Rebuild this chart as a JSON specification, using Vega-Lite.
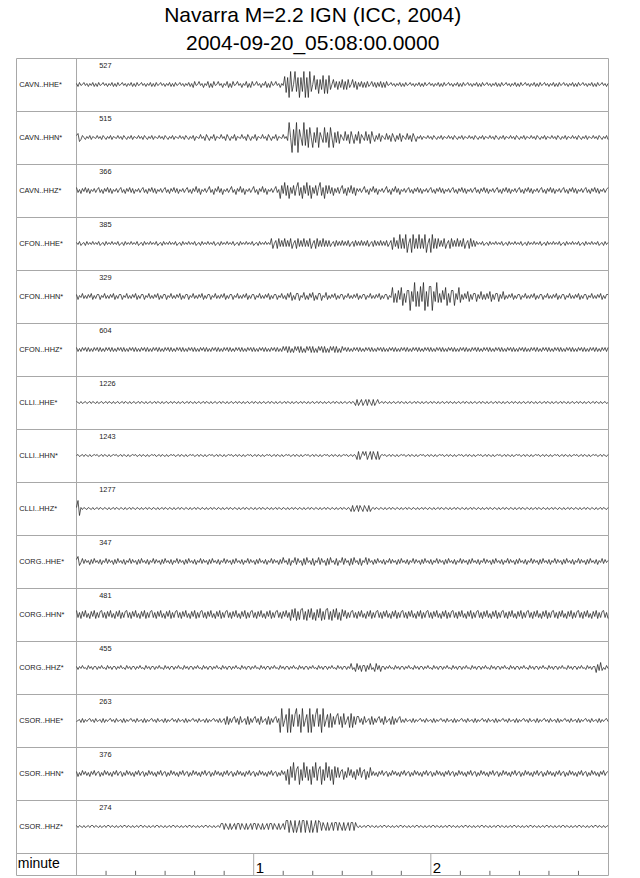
{
"$schema": "https://vega.github.io/schema/vega-lite/v6.json",
"padding": {"left": 15, "top": 5, "right": 0, "bottom": 0},
"background": "white",
"bounds": "flush",
"config": {"view": {"stroke": "#a8a8a8", "strokeWidth": 1, "continuousWidth": 592, "continuousHeight": 53}, "font": "Liberation Sans", "concat": {"spacing": 0}, "line": {"color": "#151515", "strokeWidth": 0.7}, "rule": {"color": "#a8a8a8", "strokeWidth": 1}, "text": {"align": "left", "baseline": "middle", "fontSize": 7.4, "color": "#222"}},
"title": {"text": ["Navarra M=2.2 IGN (ICC, 2004)", "2004-09-20_05:08:00.0000"], "fontSize": 21, "fontWeight": "normal", "lineHeight": 28, "color": "#000", "anchor": "middle", "offset": 3, "font": "Liberation Sans"},
"data": {"name": "w"},
"datasets": {
"w": [
{"t":0,"a":1,"b":2,"c":3,"d":1,"e":2,"f":2,"g":1,"h":0,"i":1,"j":2,"k":4,"l":1,"m":-1,"n":2,"o":1},
{"t":0.5,"a":-2,"b":4,"c":-2,"d":-1,"e":-3,"f":-2,"g":0,"h":1,"i":8,"j":5,"k":-3,"l":-2,"m":0,"n":-3,"o":-1},
{"t":1,"a":2,"b":-4,"c":1,"d":2,"e":1,"f":1,"g":-1,"h":-1,"i":-7,"j":-4,"k":2,"l":1,"m":1,"n":1,"o":1},
{"t":1.5,"a":-1,"b":-2,"c":-3,"d":-2,"e":-1,"f":-2,"g":1,"h":0,"i":1,"j":-1,"k":-4,"l":-1,"m":-2,"n":-2,"o":0},
{"t":2,"a":0,"b":2,"c":2,"d":0,"e":3,"f":2,"g":-1,"h":1,"i":-1,"j":3,"k":3,"l":2,"m":2,"n":3,"o":-1},
{"t":2.5,"a":2,"b":0,"c":-1,"d":1,"e":-2,"f":-1,"g":0,"h":-1,"i":1,"j":-2,"k":-2,"l":-1,"m":-2,"n":-1,"o":1},
{"t":3,"a":-1,"b":-2,"c":3,"d":-2,"e":1,"f":2,"g":1,"h":1,"i":0,"j":2,"k":4,"l":0,"m":1,"n":2,"o":-1},
{"t":3.5,"a":1,"b":1,"c":-2,"d":2,"e":-2,"f":-2,"g":-1,"h":0,"i":-1,"j":-1,"k":-3,"l":-2,"m":-1,"n":-2,"o":0},
{"t":4,"a":-2,"b":-1,"c":2,"d":-1,"e":2,"f":2,"g":0,"h":-1,"i":1,"j":1,"k":1,"l":2,"m":1,"n":1,"o":1},
{"t":4.5,"a":1,"b":2,"c":-3,"d":1,"e":-1,"f":-2,"g":1,"h":1,"i":0,"j":-3,"k":-4,"l":-1,"m":2,"n":-3,"o":-1},
{"t":5,"a":-1,"b":-2,"c":1,"d":-1,"e":3,"f":1,"g":-1,"h":-1,"i":-1,"j":2,"k":3,"l":1,"m":-1,"n":2,"o":1},
{"t":5.5,"a":2,"b":1,"c":-1,"d":2,"e":-3,"f":-2,"g":1,"h":0,"i":1,"j":-2,"k":-2,"l":-2,"m":1,"n":-1,"o":1},
{"t":6,"a":-2,"b":0,"c":2,"d":-1,"e":1,"f":2,"g":0,"h":1,"i":-1,"j":3,"k":4,"l":1,"m":-2,"n":3,"o":-1},
{"t":6.5,"a":1,"b":-1,"c":-2,"d":1,"e":-2,"f":-1,"g":-1,"h":0,"i":0,"j":-1,"k":-4,"l":1,"m":2,"n":-2,"o":1},
{"t":7,"a":-2,"b":2,"c":1,"d":-1,"e":2,"f":2,"g":1,"h":1,"i":1,"j":1,"k":2,"l":-2,"m":-1,"n":1,"o":0},
{"t":7.5,"a":2,"b":-1,"c":3,"d":2,"e":2,"f":-2,"g":-1,"h":-1,"i":-1,"j":-2,"k":-3,"l":1,"m":0,"n":2,"o":-1},
{"t":8,"a":-1,"b":1,"c":-2,"d":-2,"e":-3,"f":2,"g":0,"h":0,"i":1,"j":2,"k":3,"l":-1,"m":1,"n":-3,"o":1},
{"t":8.5,"a":0,"b":-2,"c":1,"d":0,"e":1,"f":-2,"g":1,"h":1,"i":0,"j":-3,"k":4,"l":2,"m":-2,"n":1,"o":-1},
{"t":9,"a":2,"b":2,"c":-3,"d":1,"e":-1,"f":1,"g":-1,"h":-1,"i":-1,"j":1,"k":-3,"l":-1,"m":2,"n":-2,"o":0},
{"t":9.5,"a":-1,"b":0,"c":2,"d":-2,"e":3,"f":-2,"g":0,"h":1,"i":1,"j":-1,"k":2,"l":0,"m":-2,"n":3,"o":1},
{"t":10,"a":1,"b":-2,"c":-1,"d":2,"e":-2,"f":2,"g":1,"h":0,"i":0,"j":3,"k":-4,"l":-2,"m":1,"n":-1,"o":-1},
{"t":10.5,"a":-2,"b":1,"c":3,"d":-1,"e":1,"f":-1,"g":-1,"h":-1,"i":-1,"j":-2,"k":3,"l":2,"m":-1,"n":2,"o":1},
{"t":11,"a":1,"b":-1,"c":-2,"d":1,"e":-2,"f":2,"g":1,"h":1,"i":1,"j":2,"k":-2,"l":-1,"m":1,"n":-2,"o":1},
{"t":11.5,"a":-1,"b":2,"c":2,"d":-1,"e":2,"f":-2,"g":0,"h":-1,"i":-1,"j":-1,"k":4,"l":1,"m":2,"n":1,"o":-1},
{"t":12,"a":2,"b":-2,"c":-3,"d":2,"e":-1,"f":2,"g":-1,"h":0,"i":0,"j":1,"k":-3,"l":-2,"m":-1,"n":-3,"o":1},
{"t":12.5,"a":-2,"b":1,"c":1,"d":-1,"e":3,"f":-2,"g":1,"h":1,"i":1,"j":-3,"k":1,"l":1,"m":1,"n":2,"o":0},
{"t":13,"a":1,"b":0,"c":-1,"d":1,"e":-3,"f":1,"g":-1,"h":0,"i":-1,"j":2,"k":-4,"l":1,"m":-2,"n":-1,"o":-1},
{"t":13.5,"a":-2,"b":-1,"c":2,"d":-1,"e":1,"f":-2,"g":0,"h":1,"i":1,"j":-2,"k":3,"l":-2,"m":2,"n":3,"o":1},
{"t":14,"a":2,"b":2,"c":-2,"d":2,"e":-2,"f":2,"g":1,"h":-1,"i":0,"j":3,"k":-2,"l":1,"m":-1,"n":-2,"o":-1},
{"t":14.5,"a":-1,"b":-1,"c":1,"d":-2,"e":2,"f":-1,"g":-1,"h":0,"i":-1,"j":-1,"k":4,"l":-1,"m":0,"n":1,"o":0},
{"t":15,"a":0,"b":1,"c":3,"d":0,"e":2,"f":2,"g":0,"h":1,"i":1,"j":1,"k":-4,"l":2,"m":1,"n":2,"o":1},
{"t":15.5,"a":2,"b":-2,"c":-2,"d":1,"e":-3,"f":-2,"g":1,"h":-1,"i":0,"j":-2,"k":2,"l":-1,"m":-2,"n":-3,"o":-1},
{"t":16,"a":-1,"b":2,"c":1,"d":-2,"e":1,"f":2,"g":-1,"h":1,"i":-1,"j":2,"k":-3,"l":0,"m":2,"n":1,"o":1},
{"t":16.5,"a":1,"b":0,"c":-3,"d":2,"e":-1,"f":-2,"g":1,"h":0,"i":1,"j":-3,"k":3,"l":-2,"m":-2,"n":-2,"o":1},
{"t":17,"a":-2,"b":-2,"c":2,"d":-1,"e":3,"f":1,"g":0,"h":-1,"i":-1,"j":1,"k":4,"l":2,"m":1,"n":3,"o":-1},
{"t":17.5,"a":1,"b":1,"c":-1,"d":1,"e":-2,"f":-2,"g":-1,"h":1,"i":0,"j":-1,"k":-3,"l":-1,"m":-1,"n":-1,"o":1},
{"t":18,"a":-1,"b":-1,"c":3,"d":-1,"e":1,"f":2,"g":1,"h":-1,"i":1,"j":3,"k":2,"l":1,"m":1,"n":2,"o":0},
{"t":18.5,"a":2,"b":2,"c":-2,"d":2,"e":-2,"f":-1,"g":-1,"h":0,"i":-1,"j":-2,"k":-4,"l":-2,"m":2,"n":-2,"o":-1},
{"t":19,"a":-2,"b":-2,"c":2,"d":-1,"e":2,"f":2,"g":0,"h":1,"i":1,"j":2,"k":3,"l":1,"m":-1,"n":1,"o":1},
{"t":19.5,"a":1,"b":1,"c":-3,"d":1,"e":-1,"f":-2,"g":1,"h":0,"i":0,"j":-1,"k":-2,"l":1,"m":1,"n":-3,"o":-1},
{"t":20,"a":-2,"b":0,"c":1,"d":-1,"e":3,"f":2,"g":-1,"h":1,"i":-1,"j":1,"k":4,"l":-2,"m":-2,"n":2,"o":0},
{"t":20.5,"a":2,"b":-1,"c":-1,"d":2,"e":-3,"f":-2,"g":0,"h":-1,"i":1,"j":-3,"k":-3,"l":1,"m":2,"n":-1,"o":1},
{"t":21,"a":-1,"b":2,"c":2,"d":-2,"e":1,"f":1,"g":1,"h":0,"i":0,"j":2,"k":1,"l":-1,"m":-1,"n":3,"o":-1},
{"t":21.5,"a":0,"b":-1,"c":-2,"d":0,"e":-2,"f":-2,"g":-1,"h":1,"i":-1,"j":-2,"k":-4,"l":2,"m":0,"n":-2,"o":1},
{"t":22,"a":2,"b":1,"c":1,"d":1,"e":2,"f":2,"g":1,"h":-1,"i":1,"j":3,"k":3,"l":-1,"m":1,"n":1,"o":1},
{"t":22.5,"a":-1,"b":-2,"c":3,"d":-2,"e":2,"f":-1,"g":0,"h":1,"i":-1,"j":-1,"k":-2,"l":0,"m":-2,"n":2,"o":-1},
{"t":23,"a":1,"b":2,"c":-2,"d":2,"e":-3,"f":2,"g":-1,"h":0,"i":0,"j":1,"k":4,"l":-2,"m":2,"n":-3,"o":1},
{"t":23.5,"a":-2,"b":0,"c":1,"d":-1,"e":1,"f":-2,"g":1,"h":-1,"i":1,"j":-2,"k":-4,"l":2,"m":-2,"n":1,"o":0},
{"t":24,"a":1,"b":-2,"c":-3,"d":1,"e":-1,"f":2,"g":-1,"h":1,"i":-1,"j":2,"k":2,"l":-1,"m":1,"n":-2,"o":-1},
{"t":24.5,"a":-1,"b":1,"c":2,"d":-1,"e":3,"f":-2,"g":0,"h":-1,"i":1,"j":-3,"k":-3,"l":1,"m":-1,"n":3,"o":1},
{"t":25,"a":2,"b":-1,"c":-1,"d":2,"e":-2,"f":1,"g":1,"h":0,"i":0,"j":1,"k":3,"l":-2,"m":1,"n":-1,"o":-1},
{"t":25.5,"a":-2,"b":2,"c":3,"d":-1,"e":1,"f":-2,"g":-1,"h":1,"i":-1,"j":-1,"k":4,"l":1,"m":2,"n":2,"o":0},
{"t":26,"a":1,"b":-2,"c":-2,"d":1,"e":-2,"f":2,"g":0,"h":0,"i":1,"j":3,"k":-3,"l":1,"m":-1,"n":-2,"o":1},
{"t":26.5,"a":-2,"b":1,"c":2,"d":-1,"e":2,"f":-1,"g":1,"h":1,"i":0,"j":-2,"k":2,"l":-2,"m":1,"n":1,"o":-1},
{"t":27,"a":2,"b":0,"c":-3,"d":2,"e":-1,"f":2,"g":-1,"h":-1,"i":-1,"j":2,"k":-4,"l":1,"m":-2,"n":-3,"o":1},
{"t":27.5,"a":-1,"b":-1,"c":1,"d":-2,"e":3,"f":-2,"g":1,"h":0,"i":1,"j":-1,"k":3,"l":-1,"m":2,"n":2,"o":1},
{"t":28,"a":0,"b":2,"c":-1,"d":0,"e":-3,"f":2,"g":0,"h":1,"i":-1,"j":1,"k":-2,"l":2,"m":-1,"n":-1,"o":-1},
{"t":28.5,"a":2,"b":-1,"c":2,"d":1,"e":1,"f":-2,"g":-1,"h":-1,"i":0,"j":-3,"k":4,"l":-1,"m":0,"n":3,"o":1},
{"t":29,"a":-1,"b":1,"c":-2,"d":-2,"e":-2,"f":1,"g":1,"h":1,"i":1,"j":2,"k":-3,"l":0,"m":1,"n":-2,"o":0},
{"t":29.5,"a":1,"b":-2,"c":1,"d":2,"e":2,"f":-2,"g":-1,"h":0,"i":-1,"j":-2,"k":1,"l":-2,"m":-2,"n":1,"o":-1},
{"t":30,"a":-2,"b":2,"c":3,"d":-1,"e":2,"f":2,"g":0,"h":-1,"i":1,"j":3,"k":-4,"l":2,"m":2,"n":2,"o":1},
{"t":30.5,"a":1,"b":0,"c":-2,"d":1,"e":-3,"f":-1,"g":1,"h":1,"i":0,"j":-1,"k":3,"l":-1,"m":-2,"n":-3,"o":-1},
{"t":31,"a":-1,"b":-2,"c":1,"d":-1,"e":1,"f":2,"g":-1,"h":-1,"i":-1,"j":1,"k":-2,"l":1,"m":1,"n":1,"o":0},
{"t":31.5,"a":2,"b":1,"c":-3,"d":2,"e":-1,"f":-2,"g":0,"h":0,"i":1,"j":-2,"k":4,"l":-2,"m":-1,"n":-2,"o":1},
{"t":32,"a":-2,"b":-1,"c":2,"d":-1,"e":3,"f":2,"g":1,"h":1,"i":0,"j":2,"k":-4,"l":1,"m":1,"n":3,"o":-1},
{"t":32.5,"a":1,"b":2,"c":-1,"d":1,"e":-2,"f":-2,"g":-1,"h":0,"i":-1,"j":-3,"k":2,"l":1,"m":2,"n":-1,"o":1},
{"t":33,"a":-2,"b":-2,"c":3,"d":-1,"e":1,"f":1,"g":1,"h":1,"i":1,"j":1,"k":-3,"l":-2,"m":-1,"n":2,"o":1},
{"t":33.5,"a":2,"b":1,"c":-2,"d":2,"e":-2,"f":-2,"g":0,"h":-1,"i":-1,"j":-1,"k":3,"l":1,"m":1,"n":-2,"o":-1},
{"t":34,"a":-1,"b":0,"c":2,"d":-2,"e":2,"f":2,"g":-1,"h":0,"i":0,"j":3,"k":4,"l":-1,"m":-2,"n":1,"o":1},
{"t":34.5,"a":0,"b":-1,"c":-3,"d":0,"e":-1,"f":-1,"g":1,"h":1,"i":1,"j":-2,"k":-3,"l":2,"m":2,"n":-3,"o":0},
{"t":35,"a":2,"b":2,"c":1,"d":1,"e":3,"f":2,"g":-1,"h":-1,"i":-1,"j":2,"k":2,"l":-1,"m":-1,"n":2,"o":-1},
{"t":35.5,"a":-1,"b":-1,"c":-1,"d":-2,"e":-3,"f":-2,"g":0,"h":1,"i":1,"j":-1,"k":-4,"l":0,"m":0,"n":-1,"o":1},
{"t":36,"a":1,"b":1,"c":2,"d":2,"e":1,"f":2,"g":1,"h":0,"i":0,"j":1,"k":3,"l":-2,"m":1,"n":3,"o":-1},
{"t":36.5,"a":-2,"b":-2,"c":-2,"d":-1,"e":-2,"f":-2,"g":-1,"h":-1,"i":-1,"j":-3,"k":-2,"l":2,"m":-2,"n":-2,"o":0},
{"t":37,"a":1,"b":2,"c":1,"d":1,"e":2,"f":1,"g":0,"h":1,"i":1,"j":2,"k":4,"l":-1,"m":2,"n":1,"o":1},
{"t":37.5,"a":-1,"b":0,"c":3,"d":-1,"e":2,"f":-2,"g":1,"h":-1,"i":0,"j":-2,"k":-3,"l":1,"m":-2,"n":2,"o":-1},
{"t":38,"a":2,"b":-2,"c":-2,"d":2,"e":-3,"f":2,"g":-1,"h":0,"i":-1,"j":3,"k":1,"l":-2,"m":1,"n":-3,"o":1},
{"t":38.5,"a":-2,"b":1,"c":1,"d":-1,"e":1,"f":-1,"g":1,"h":1,"i":1,"j":-1,"k":-4,"l":1,"m":-1,"n":1,"o":1},
{"t":39,"a":1,"b":-1,"c":-3,"d":1,"e":-1,"f":2,"g":0,"h":0,"i":-1,"j":1,"k":3,"l":1,"m":1,"n":-2,"o":-1},
{"t":39.5,"a":-3,"b":2,"c":2,"d":-1,"e":3,"f":-2,"g":-1,"h":1,"i":0,"j":-2,"k":-2,"l":-2,"m":2,"n":3,"o":1},
{"t":40,"a":3,"b":-3,"c":-1,"d":2,"e":-2,"f":2,"g":1,"h":-1,"i":1,"j":2,"k":4,"l":1,"m":-1,"n":-1,"o":0},
{"t":40.5,"a":-1,"b":1,"c":4,"d":-2,"e":1,"f":-2,"g":-1,"h":0,"i":-1,"j":-3,"k":-4,"l":-1,"m":1,"n":2,"o":-1},
{"t":41,"a":0,"b":0,"c":-2,"d":0,"e":-2,"f":1,"g":0,"h":1,"i":1,"j":1,"k":2,"l":2,"m":-2,"n":-2,"o":1},
{"t":41.5,"a":3,"b":-1,"c":2,"d":1,"e":2,"f":-2,"g":1,"h":-1,"i":0,"j":-1,"k":-3,"l":-1,"m":2,"n":1,"o":-1},
{"t":42,"a":-1,"b":3,"c":-4,"d":-2,"e":-1,"f":2,"g":-1,"h":1,"i":-1,"j":3,"k":3,"l":0,"m":-1,"n":-3,"o":0},
{"t":42.5,"a":1,"b":-1,"c":1,"d":2,"e":3,"f":-1,"g":0,"h":0,"i":1,"j":-2,"k":4,"l":-2,"m":0,"n":2,"o":1},
{"t":43,"a":-3,"b":1,"c":-1,"d":-1,"e":-3,"f":2,"g":1,"h":-1,"i":0,"j":2,"k":-3,"l":2,"m":1,"n":-1,"o":-1},
{"t":43.5,"a":1,"b":-3,"c":2,"d":1,"e":1,"f":-2,"g":-1,"h":1,"i":-1,"j":-1,"k":2,"l":-1,"m":-2,"n":3,"o":1},
{"t":44,"a":-1,"b":3,"c":-2,"d":-1,"e":-2,"f":2,"g":1,"h":-1,"i":1,"j":1,"k":-4,"l":1,"m":2,"n":-2,"o":1},
{"t":44.5,"a":3,"b":0,"c":1,"d":2,"e":2,"f":-2,"g":0,"h":0,"i":-1,"j":-3,"k":3,"l":-2,"m":-2,"n":1,"o":-1},
{"t":45,"a":-3,"b":-3,"c":4,"d":-1,"e":2,"f":1,"g":-1,"h":1,"i":0,"j":2,"k":-2,"l":1,"m":1,"n":2,"o":1},
{"t":45.5,"a":1,"b":1,"c":-2,"d":1,"e":-3,"f":-2,"g":1,"h":0,"i":1,"j":-2,"k":4,"l":1,"m":-1,"n":-3,"o":0},
{"t":46,"a":-3,"b":-1,"c":1,"d":-1,"e":1,"f":2,"g":-1,"h":1,"i":-1,"j":3,"k":-3,"l":-2,"m":1,"n":1,"o":-1},
{"t":46.5,"a":3,"b":3,"c":-4,"d":2,"e":-1,"f":-1,"g":0,"h":-1,"i":1,"j":-1,"k":1,"l":1,"m":2,"n":-2,"o":1},
{"t":47,"a":-1,"b":-3,"c":2,"d":-2,"e":3,"f":2,"g":1,"h":0,"i":0,"j":1,"k":-4,"l":-1,"m":-1,"n":3,"o":-1},
{"t":47.5,"a":0,"b":1,"c":-1,"d":0,"e":-2,"f":-2,"g":-1,"h":1,"i":-1,"j":-2,"k":3,"l":2,"m":1,"n":-1,"o":0},
{"t":48,"a":3,"b":0,"c":4,"d":1,"e":1,"f":2,"g":0,"h":-1,"i":1,"j":2,"k":-2,"l":-1,"m":-2,"n":2,"o":1},
{"t":48.5,"a":-1,"b":-1,"c":-2,"d":-2,"e":-2,"f":-2,"g":1,"h":1,"i":0,"j":-3,"k":4,"l":0,"m":2,"n":-2,"o":-1},
{"t":49,"a":1,"b":3,"c":2,"d":2,"e":2,"f":1,"g":-1,"h":0,"i":-1,"j":1,"k":-4,"l":-2,"m":-2,"n":1,"o":3},
{"t":49.5,"a":-3,"b":-1,"c":-4,"d":-1,"e":-1,"f":-2,"g":1,"h":-1,"i":1,"j":-1,"k":2,"l":2,"m":0,"n":-3,"o":3},
{"t":50,"a":1,"b":1,"c":1,"d":1,"e":3,"f":2,"g":0,"h":1,"i":-1,"j":3,"k":-3,"l":-1,"m":2,"n":2,"o":-3},
{"t":50.5,"a":-1,"b":-3,"c":-1,"d":-1,"e":-3,"f":-1,"g":-1,"h":-1,"i":0,"j":-2,"k":3,"l":1,"m":-4,"n":-1,"o":3},
{"t":51,"a":3,"b":3,"c":2,"d":2,"e":1,"f":2,"g":1,"h":0,"i":1,"j":2,"k":4,"l":-2,"m":4,"n":3,"o":0},
{"t":51.5,"a":-3,"b":0,"c":-2,"d":-1,"e":-2,"f":-2,"g":-1,"h":1,"i":-1,"j":-1,"k":-3,"l":1,"m":-4,"n":-2,"o":-3},
{"t":52,"a":1,"b":-3,"c":1,"d":1,"e":2,"f":2,"g":0,"h":0,"i":1,"j":1,"k":2,"l":1,"m":2,"n":1,"o":3},
{"t":52.5,"a":-3,"b":1,"c":4,"d":-1,"e":2,"f":-2,"g":1,"h":1,"i":0,"j":-3,"k":-4,"l":-2,"m":-2,"n":2,"o":-3},
{"t":53,"a":3,"b":-1,"c":-2,"d":2,"e":-3,"f":1,"g":-1,"h":-1,"i":-1,"j":2,"k":3,"l":1,"m":2,"n":-3,"o":0},
{"t":53.5,"a":-1,"b":3,"c":1,"d":-2,"e":1,"f":-2,"g":0,"h":0,"i":1,"j":-2,"k":-2,"l":-1,"m":4,"n":1,"o":3},
{"t":54,"a":0,"b":-3,"c":-4,"d":0,"e":-1,"f":2,"g":1,"h":1,"i":0,"j":3,"k":4,"l":2,"m":-2,"n":-2,"o":-3},
{"t":54.5,"a":3,"b":1,"c":2,"d":1,"e":3,"f":-1,"g":-1,"h":-1,"i":-1,"j":-1,"k":-3,"l":-1,"m":2,"n":3,"o":3},
{"t":55,"a":-1,"b":0,"c":-1,"d":-2,"e":-2,"f":2,"g":1,"h":1,"i":1,"j":1,"k":1,"l":0,"m":-4,"n":-1,"o":3},
{"t":55.5,"a":1,"b":-1,"c":4,"d":2,"e":1,"f":-2,"g":0,"h":0,"i":-1,"j":-2,"k":-4,"l":-2,"m":4,"n":2,"o":-3},
{"t":56,"a":-3,"b":3,"c":-2,"d":-1,"e":-2,"f":2,"g":-1,"h":-1,"i":0,"j":2,"k":3,"l":2,"m":-2,"n":-2,"o":3},
{"t":56.5,"a":1,"b":-1,"c":2,"d":1,"e":2,"f":-2,"g":1,"h":1,"i":1,"j":-3,"k":-2,"l":-1,"m":0,"n":1,"o":0},
{"t":57,"a":-1,"b":1,"c":-4,"d":-1,"e":-1,"f":1,"g":-1,"h":-1,"i":-1,"j":1,"k":4,"l":1,"m":2,"n":-3,"o":-3},
{"t":57.5,"a":3,"b":-3,"c":1,"d":2,"e":3,"f":-2,"g":0,"h":0,"i":1,"j":-1,"k":-4,"l":-2,"m":-4,"n":2,"o":3},
{"t":58,"a":-3,"b":3,"c":-1,"d":-1,"e":-3,"f":2,"g":1,"h":1,"i":0,"j":3,"k":2,"l":1,"m":4,"n":-1,"o":-3},
{"t":58.5,"a":1,"b":0,"c":2,"d":1,"e":1,"f":-1,"g":-1,"h":0,"i":-1,"j":-2,"k":-3,"l":1,"m":-4,"n":3,"o":0},
{"t":59,"a":-3,"b":-3,"c":-2,"d":-1,"e":-2,"f":2,"g":0,"h":1,"i":1,"j":2,"k":3,"l":-2,"m":2,"n":-2,"o":3},
{"t":59.5,"a":3,"b":1,"c":1,"d":2,"e":2,"f":-2,"g":1,"h":-1,"i":0,"j":-1,"k":4,"l":1,"m":-2,"n":1,"o":-3},
{"t":60,"a":-1,"b":-1,"c":4,"d":-2,"e":2,"f":2,"g":-1,"h":0,"i":-1,"j":1,"k":-3,"l":-1,"m":2,"n":2,"o":3},
{"t":60.5,"a":0,"b":3,"c":-2,"d":0,"e":-3,"f":-2,"g":1,"h":1,"i":1,"j":-3,"k":2,"l":2,"m":4,"n":-3,"o":3},
{"t":61,"a":3,"b":-3,"c":1,"d":1,"e":1,"f":1,"g":0,"h":-1,"i":-1,"j":2,"k":-4,"l":-1,"m":-2,"n":1,"o":-3},
{"t":61.5,"a":-1,"b":1,"c":-4,"d":-2,"e":-1,"f":-2,"g":-1,"h":1,"i":0,"j":-2,"k":3,"l":0,"m":2,"n":-2,"o":3},
{"t":62,"a":1,"b":0,"c":2,"d":2,"e":3,"f":2,"g":1,"h":0,"i":1,"j":3,"k":-2,"l":-2,"m":-4,"n":3,"o":0},
{"t":62.5,"a":-3,"b":-1,"c":-1,"d":-1,"e":-2,"f":-1,"g":-1,"h":-1,"i":-1,"j":-1,"k":4,"l":2,"m":4,"n":-1,"o":-3},
{"t":63,"a":1,"b":3,"c":4,"d":1,"e":1,"f":2,"g":0,"h":1,"i":1,"j":1,"k":-3,"l":-1,"m":-2,"n":2,"o":3},
{"t":63.5,"a":-1,"b":-1,"c":-2,"d":-1,"e":-2,"f":-2,"g":1,"h":-1,"i":0,"j":-2,"k":1,"l":1,"m":0,"n":-2,"o":-3},
{"t":64,"a":3,"b":1,"c":2,"d":2,"e":2,"f":2,"g":-1,"h":0,"i":-1,"j":2,"k":-4,"l":-2,"m":2,"n":1,"o":0},
{"t":64.5,"a":-3,"b":-3,"c":-4,"d":-1,"e":-1,"f":-2,"g":0,"h":1,"i":1,"j":-3,"k":3,"l":1,"m":-4,"n":-3,"o":3},
{"t":65,"a":1,"b":3,"c":1,"d":1,"e":3,"f":1,"g":1,"h":0,"i":0,"j":1,"k":-2,"l":1,"m":4,"n":2,"o":-3},
{"t":65.5,"a":-3,"b":0,"c":-1,"d":-1,"e":-3,"f":-2,"g":-1,"h":1,"i":-1,"j":-1,"k":4,"l":-2,"m":-4,"n":-1,"o":3},
{"t":66,"a":3,"b":-3,"c":2,"d":5,"e":1,"f":2,"g":1,"h":-1,"i":1,"j":3,"k":-4,"l":1,"m":2,"n":3,"o":3},
{"t":66.5,"a":-1,"b":1,"c":-2,"d":-5,"e":-2,"f":-1,"g":0,"h":0,"i":-1,"j":-2,"k":2,"l":-1,"m":-2,"n":-2,"o":-3},
{"t":67,"a":0,"b":-1,"c":1,"d":0,"e":2,"f":2,"g":-1,"h":1,"i":0,"j":2,"k":-3,"l":2,"m":2,"n":1,"o":3},
{"t":67.5,"a":3,"b":3,"c":4,"d":3,"e":2,"f":-2,"g":1,"h":-1,"i":1,"j":-1,"k":3,"l":-1,"m":4,"n":2,"o":0},
{"t":68,"a":-1,"b":-3,"c":-2,"d":-5,"e":-3,"f":2,"g":-1,"h":1,"i":-1,"j":1,"k":4,"l":0,"m":-2,"n":-3,"o":-3},
{"t":68.5,"a":1,"b":1,"c":1,"d":5,"e":1,"f":-2,"g":0,"h":0,"i":1,"j":-3,"k":-3,"l":-2,"m":2,"n":1,"o":3},
{"t":69,"a":-3,"b":0,"c":-8,"d":-3,"e":-1,"f":1,"g":1,"h":-1,"i":0,"j":2,"k":2,"l":2,"m":-12,"n":-2,"o":-3},
{"t":69.5,"a":1,"b":-1,"c":5,"d":3,"e":3,"f":-2,"g":-1,"h":1,"i":-1,"j":-2,"k":-4,"l":-1,"m":12,"n":3,"o":0},
{"t":70,"a":-1,"b":3,"c":-3,"d":-3,"e":-2,"f":3,"g":0,"h":-1,"i":1,"j":4,"k":3,"l":1,"m":-6,"n":-1,"o":3},
{"t":70.5,"a":8,"b":-1,"c":8,"d":5,"e":1,"f":-1,"g":1,"h":0,"i":0,"j":-1,"k":-2,"l":-2,"m":0,"n":2,"o":-3},
{"t":71,"a":-8,"b":1,"c":-5,"d":-3,"e":-3,"f":3,"g":-1,"h":1,"i":-1,"j":1,"k":4,"l":1,"m":6,"n":-7,"o":6},
{"t":71.5,"a":7,"b":-3,"c":5,"d":3,"e":3,"f":-3,"g":1,"h":0,"i":1,"j":-3,"k":-3,"l":1,"m":-12,"n":4,"o":6},
{"t":72,"a":-13,"b":15,"c":-8,"d":-3,"e":-1,"f":3,"g":0,"h":1,"i":-1,"j":3,"k":2,"l":-2,"m":12,"n":-11,"o":-6},
{"t":72.5,"a":13,"b":0,"c":3,"d":5,"e":4,"f":-3,"g":-1,"h":-1,"i":0,"j":-4,"k":-6,"l":1,"m":-12,"n":7,"o":6},
{"t":73,"a":-7,"b":-15,"c":-3,"d":-5,"e":-4,"f":1,"g":1,"h":0,"i":1,"j":1,"k":5,"l":-1,"m":6,"n":-4,"o":0},
{"t":73.5,"a":0,"b":8,"c":5,"d":0,"e":1,"f":-3,"g":-1,"h":1,"i":-1,"j":-1,"k":-3,"l":2,"m":-6,"n":11,"o":-6},
{"t":74,"a":13,"b":-8,"c":-5,"d":3,"e":-3,"f":3,"g":0,"h":-1,"i":1,"j":4,"k":6,"l":-1,"m":6,"n":-7,"o":6},
{"t":74.5,"a":-7,"b":15,"c":3,"d":-5,"e":3,"f":-1,"g":1,"h":1,"i":0,"j":-3,"k":-6,"l":0,"m":12,"n":4,"o":-6},
{"t":75,"a":7,"b":-15,"c":8,"d":5,"e":3,"f":3,"g":-1,"h":0,"i":-1,"j":3,"k":3,"l":-2,"m":-6,"n":7,"o":0},
{"t":75.5,"a":-13,"b":8,"c":-5,"d":-3,"e":-4,"f":-3,"g":0,"h":-1,"i":1,"j":-1,"k":-5,"l":2,"m":6,"n":-11,"o":6},
{"t":76,"a":7,"b":0,"c":3,"d":3,"e":1,"f":3,"g":1,"h":1,"i":0,"j":1,"k":5,"l":-1,"m":-12,"n":4,"o":-6},
{"t":76.5,"a":-7,"b":-8,"c":-8,"d":-3,"e":-1,"f":-3,"g":-1,"h":-1,"i":-1,"j":-4,"k":6,"l":1,"m":12,"n":-7,"o":6},
{"t":77,"a":13,"b":15,"c":5,"d":5,"e":4,"f":1,"g":1,"h":0,"i":1,"j":3,"k":-5,"l":-2,"m":-6,"n":11,"o":6},
{"t":77.5,"a":-13,"b":-8,"c":-3,"d":-3,"e":-3,"f":-3,"g":0,"h":1,"i":-1,"j":-3,"k":3,"l":1,"m":0,"n":-4,"o":-6},
{"t":78,"a":7,"b":8,"c":8,"d":3,"e":1,"f":3,"g":-1,"h":0,"i":0,"j":4,"k":-6,"l":1,"m":6,"n":7,"o":6},
{"t":78.5,"a":-13,"b":-10,"c":-5,"d":-3,"e":-3,"f":-1,"g":1,"h":1,"i":1,"j":-1,"k":5,"l":-2,"m":-12,"n":-7,"o":0},
{"t":79,"a":13,"b":10,"c":5,"d":5,"e":3,"f":3,"g":-1,"h":-1,"i":-1,"j":1,"k":-3,"l":1,"m":12,"n":4,"o":-6},
{"t":79.5,"a":-7,"b":0,"c":-8,"d":-5,"e":-1,"f":-3,"g":0,"h":0,"i":1,"j":-3,"k":6,"l":-1,"m":-12,"n":-11,"o":6},
{"t":80,"a":0,"b":-10,"c":3,"d":0,"e":4,"f":3,"g":1,"h":1,"i":0,"j":3,"k":-5,"l":2,"m":6,"n":7,"o":-6},
{"t":80.5,"a":9,"b":5,"c":-3,"d":3,"e":-4,"f":-3,"g":-1,"h":-1,"i":-1,"j":-4,"k":2,"l":-1,"m":-6,"n":-4,"o":0},
{"t":81,"a":-5,"b":-5,"c":5,"d":-5,"e":1,"f":1,"g":0,"h":1,"i":1,"j":1,"k":-6,"l":0,"m":6,"n":11,"o":6},
{"t":81.5,"a":5,"b":10,"c":-5,"d":5,"e":-3,"f":-3,"g":1,"h":0,"i":0,"j":-1,"k":5,"l":-2,"m":12,"n":-7,"o":-6},
{"t":82,"a":-9,"b":-10,"c":3,"d":-3,"e":3,"f":3,"g":-1,"h":-1,"i":-1,"j":4,"k":-3,"l":2,"m":-6,"n":4,"o":6},
{"t":82.5,"a":5,"b":5,"c":8,"d":3,"e":3,"f":-1,"g":1,"h":1,"i":1,"j":-3,"k":6,"l":-1,"m":6,"n":7,"o":4},
{"t":83,"a":-5,"b":0,"c":-5,"d":-3,"e":-4,"f":3,"g":0,"h":-1,"i":-1,"j":3,"k":-6,"l":1,"m":-12,"n":-11,"o":-4},
{"t":83.5,"a":9,"b":-5,"c":3,"d":5,"e":1,"f":-3,"g":-1,"h":0,"i":0,"j":-1,"k":3,"l":-2,"m":12,"n":4,"o":4},
{"t":84,"a":-9,"b":10,"c":-8,"d":-3,"e":-1,"f":3,"g":1,"h":1,"i":1,"j":1,"k":-5,"l":1,"m":-6,"n":-7,"o":0},
{"t":84.5,"a":5,"b":-5,"c":5,"d":3,"e":4,"f":-3,"g":-1,"h":0,"i":-1,"j":-4,"k":5,"l":1,"m":0,"n":11,"o":-4},
{"t":85,"a":-9,"b":5,"c":-3,"d":-3,"e":-3,"f":1,"g":0,"h":1,"i":1,"j":3,"k":6,"l":-2,"m":6,"n":-4,"o":4},
{"t":85.5,"a":9,"b":-10,"c":5,"d":3,"e":1,"f":-3,"g":1,"h":-1,"i":0,"j":-3,"k":-5,"l":1,"m":-7,"n":7,"o":-4},
{"t":86,"a":-5,"b":10,"c":-3,"d":-3,"e":-2,"f":3,"g":-1,"h":0,"i":-1,"j":4,"k":3,"l":-1,"m":7,"n":-7,"o":0},
{"t":86.5,"a":0,"b":0,"c":3,"d":0,"e":2,"f":-1,"g":0,"h":1,"i":1,"j":-1,"k":-6,"l":2,"m":-7,"n":4,"o":4},
{"t":87,"a":5,"b":-10,"c":-5,"d":2,"e":-1,"f":3,"g":1,"h":-1,"i":0,"j":1,"k":5,"l":-1,"m":4,"n":-11,"o":-4},
{"t":87.5,"a":-3,"b":5,"c":2,"d":-3,"e":3,"f":-3,"g":-1,"h":1,"i":-1,"j":-3,"k":-3,"l":0,"m":-4,"n":7,"o":4},
{"t":88,"a":3,"b":-5,"c":-2,"d":3,"e":-3,"f":3,"g":1,"h":0,"i":1,"j":3,"k":6,"l":-2,"m":4,"n":-4,"o":4},
{"t":88.5,"a":-5,"b":6,"c":3,"d":-2,"e":1,"f":-3,"g":0,"h":-1,"i":-1,"j":-4,"k":-5,"l":2,"m":7,"n":6,"o":-4},
{"t":89,"a":3,"b":-6,"c":-3,"d":2,"e":-2,"f":1,"g":-1,"h":1,"i":0,"j":1,"k":2,"l":-1,"m":-4,"n":-4,"o":4},
{"t":89.5,"a":-3,"b":3,"c":2,"d":-2,"e":2,"f":-3,"g":1,"h":-1,"i":1,"j":-1,"k":-6,"l":1,"m":4,"n":2,"o":0},
{"t":90,"a":5,"b":0,"c":5,"d":3,"e":2,"f":3,"g":-1,"h":0,"i":-1,"j":4,"k":5,"l":-2,"m":-7,"n":4,"o":-4},
{"t":90.5,"a":-5,"b":-3,"c":-3,"d":-2,"e":-3,"f":-1,"g":0,"h":1,"i":1,"j":-3,"k":-2,"l":1,"m":7,"n":-6,"o":4},
{"t":91,"a":3,"b":6,"c":2,"d":2,"e":1,"f":2,"g":1,"h":0,"i":0,"j":3,"k":4,"l":1,"m":-4,"n":2,"o":-4},
{"t":91.5,"a":-5,"b":-3,"c":-5,"d":-2,"e":-1,"f":-2,"g":-1,"h":1,"i":-1,"j":-1,"k":-4,"l":-2,"m":0,"n":-4,"o":0},
{"t":92,"a":5,"b":3,"c":3,"d":3,"e":3,"f":2,"g":0,"h":-1,"i":1,"j":1,"k":2,"l":1,"m":4,"n":6,"o":4},
{"t":92.5,"a":-3,"b":-6,"c":-2,"d":-3,"e":-2,"f":-2,"g":1,"h":0,"i":0,"j":-4,"k":-3,"l":-1,"m":-7,"n":-2,"o":-4},
{"t":93,"a":0,"b":6,"c":5,"d":0,"e":1,"f":1,"g":-1,"h":1,"i":-3,"j":3,"k":3,"l":4,"m":7,"n":4,"o":4},
{"t":93.5,"a":5,"b":0,"c":-3,"d":2,"e":-2,"f":-2,"g":1,"h":-1,"i":3,"j":-3,"k":4,"l":-2,"m":-7,"n":-4,"o":4},
{"t":94,"a":-3,"b":-6,"c":3,"d":-3,"e":2,"f":2,"g":0,"h":1,"i":-3,"j":4,"k":-3,"l":0,"m":4,"n":2,"o":-4},
{"t":94.5,"a":3,"b":3,"c":-5,"d":3,"e":-1,"f":-1,"g":-3,"h":0,"i":0,"j":-1,"k":2,"l":-4,"m":-4,"n":-6,"o":4},
{"t":95,"a":-5,"b":-3,"c":2,"d":-2,"e":3,"f":2,"g":3,"h":-4,"i":3,"j":1,"k":-4,"l":4,"m":4,"n":4,"o":0},
{"t":95.5,"a":2,"b":6,"c":-1,"d":2,"e":-3,"f":-2,"g":-3,"h":4,"i":-3,"j":-3,"k":3,"l":-2,"m":4,"n":-2,"o":-1},
{"t":96,"a":-2,"b":-6,"c":2,"d":-2,"e":1,"f":2,"g":0,"h":-4,"i":3,"j":3,"k":-2,"l":2,"m":-2,"n":6,"o":1},
{"t":96.5,"a":3,"b":3,"c":-2,"d":3,"e":-2,"f":-2,"g":3,"h":0,"i":0,"j":-4,"k":4,"l":-4,"m":2,"n":-4,"o":-1},
{"t":97,"a":-3,"b":0,"c":1,"d":-2,"e":2,"f":1,"g":-3,"h":4,"i":-3,"j":1,"k":-3,"l":2,"m":-4,"n":2,"o":0},
{"t":97.5,"a":2,"b":-3,"c":4,"d":2,"e":2,"f":-2,"g":0,"h":0,"i":3,"j":-1,"k":1,"l":2,"m":4,"n":4,"o":1},
{"t":98,"a":-3,"b":6,"c":-2,"d":-2,"e":-3,"f":2,"g":3,"h":4,"i":0,"j":4,"k":-4,"l":-4,"m":-2,"n":-6,"o":-1},
{"t":98.5,"a":3,"b":-3,"c":1,"d":3,"e":1,"f":-1,"g":-3,"h":-4,"i":-3,"j":-3,"k":3,"l":2,"m":0,"n":2,"o":1},
{"t":99,"a":-2,"b":3,"c":-4,"d":-3,"e":-1,"f":2,"g":3,"h":0,"i":3,"j":3,"k":-2,"l":-2,"m":2,"n":-4,"o":1},
{"t":99.5,"a":0,"b":-6,"c":2,"d":0,"e":3,"f":-2,"g":0,"h":4,"i":-3,"j":-1,"k":4,"l":4,"m":-4,"n":6,"o":-1},
{"t":100,"a":3,"b":6,"c":-1,"d":2,"e":-2,"f":2,"g":-3,"h":-4,"i":0,"j":1,"k":-4,"l":-2,"m":4,"n":-2,"o":1},
{"t":100.5,"a":-2,"b":0,"c":4,"d":-3,"e":1,"f":-2,"g":3,"h":4,"i":1,"j":-3,"k":2,"l":0,"m":-4,"n":2,"o":0},
{"t":101,"a":2,"b":-4,"c":-2,"d":3,"e":-2,"f":1,"g":-3,"h":0,"i":-1,"j":2,"k":-3,"l":-4,"m":2,"n":-2,"o":-1},
{"t":101.5,"a":-3,"b":2,"c":2,"d":-2,"e":2,"f":-2,"g":0,"h":-4,"i":1,"j":-2,"k":3,"l":4,"m":-2,"n":1,"o":1},
{"t":102,"a":2,"b":-2,"c":-4,"d":2,"e":-1,"f":2,"g":3,"h":4,"i":0,"j":3,"k":4,"l":-2,"m":2,"n":-3,"o":-1},
{"t":102.5,"a":-2,"b":4,"c":1,"d":-2,"e":3,"f":-1,"g":-1,"h":-4,"i":-1,"j":-1,"k":-3,"l":2,"m":4,"n":2,"o":0},
{"t":103,"a":3,"b":-4,"c":-1,"d":3,"e":-3,"f":2,"g":0,"h":0,"i":1,"j":1,"k":2,"l":-4,"m":-2,"n":-1,"o":1},
{"t":103.5,"a":-3,"b":2,"c":2,"d":-2,"e":1,"f":-2,"g":1,"h":1,"i":0,"j":-2,"k":-4,"l":1,"m":2,"n":3,"o":-1},
{"t":104,"a":2,"b":0,"c":-2,"d":2,"e":-2,"f":2,"g":-1,"h":0,"i":-1,"j":2,"k":3,"l":1,"m":-4,"n":-2,"o":1},
{"t":104.5,"a":-3,"b":-2,"c":1,"d":-2,"e":2,"f":-2,"g":1,"h":1,"i":1,"j":-3,"k":-2,"l":-2,"m":4,"n":1,"o":1},
{"t":105,"a":3,"b":4,"c":4,"d":3,"e":2,"f":1,"g":0,"h":-1,"i":-1,"j":1,"k":4,"l":1,"m":-2,"n":2,"o":-1},
{"t":105.5,"a":-1,"b":-2,"c":-2,"d":-3,"e":-3,"f":-2,"g":-1,"h":0,"i":0,"j":-1,"k":-3,"l":-1,"m":0,"n":-3,"o":1},
{"t":106,"a":0,"b":2,"c":1,"d":0,"e":1,"f":2,"g":1,"h":1,"i":1,"j":3,"k":1,"l":2,"m":2,"n":1,"o":0},
{"t":106.5,"a":2,"b":-4,"c":-4,"d":3,"e":-1,"f":-1,"g":-1,"h":-1,"i":-1,"j":-2,"k":-4,"l":-1,"m":-4,"n":-2,"o":-1},
{"t":107,"a":-1,"b":4,"c":2,"d":-6,"e":9,"f":2,"g":0,"h":1,"i":1,"j":2,"k":3,"l":0,"m":4,"n":3,"o":1},
{"t":107.5,"a":1,"b":0,"c":-1,"d":6,"e":-6,"f":-2,"g":1,"h":0,"i":0,"j":-1,"k":-2,"l":-2,"m":-4,"n":-1,"o":-1},
{"t":108,"a":-2,"b":-4,"c":4,"d":-3,"e":3,"f":2,"g":-1,"h":-1,"i":-1,"j":1,"k":4,"l":2,"m":2,"n":2,"o":0},
{"t":108.5,"a":1,"b":2,"c":-2,"d":3,"e":-6,"f":-2,"g":0,"h":1,"i":1,"j":-3,"k":-4,"l":-1,"m":-2,"n":-2,"o":1},
{"t":109,"a":-1,"b":-2,"c":2,"d":-5,"e":6,"f":1,"g":1,"h":-1,"i":0,"j":2,"k":2,"l":1,"m":2,"n":1,"o":-1},
{"t":109.5,"a":2,"b":4,"c":-4,"d":9,"e":-3,"f":-2,"g":-1,"h":0,"i":-1,"j":-2,"k":-3,"l":-2,"m":4,"n":-3,"o":1},
{"t":110,"a":-2,"b":-4,"c":1,"d":-5,"e":9,"f":2,"g":1,"h":1,"i":1,"j":3,"k":3,"l":1,"m":-2,"n":2,"o":1},
{"t":110.5,"a":1,"b":2,"c":-1,"d":5,"e":-9,"f":-1,"g":0,"h":0,"i":-1,"j":-1,"k":4,"l":1,"m":1,"n":-1,"o":-1},
{"t":111,"a":-2,"b":0,"c":2,"d":-5,"e":3,"f":2,"g":-1,"h":1,"i":0,"j":1,"k":-3,"l":-2,"m":-2,"n":3,"o":1},
{"t":111.5,"a":2,"b":-2,"c":-2,"d":9,"e":-6,"f":-2,"g":1,"h":-1,"i":1,"j":-2,"k":2,"l":1,"m":2,"n":-2,"o":0},
{"t":112,"a":-1,"b":4,"c":1,"d":-9,"e":6,"f":2,"g":-1,"h":0,"i":-1,"j":2,"k":-4,"l":-1,"m":-1,"n":1,"o":-1},
{"t":112.5,"a":0,"b":-2,"c":3,"d":0,"e":6,"f":-2,"g":0,"h":1,"i":1,"j":-3,"k":3,"l":2,"m":0,"n":2,"o":1},
{"t":113,"a":2,"b":2,"c":-2,"d":5,"e":-14,"f":1,"g":1,"h":-1,"i":0,"j":1,"k":-2,"l":-1,"m":1,"n":-3,"o":-1},
{"t":113.5,"a":-1,"b":-4,"c":1,"d":-9,"e":5,"f":-2,"g":-1,"h":1,"i":-1,"j":-1,"k":4,"l":0,"m":-2,"n":1,"o":0},
{"t":114,"a":1,"b":4,"c":-3,"d":9,"e":-5,"f":2,"g":0,"h":0,"i":1,"j":3,"k":-3,"l":-2,"m":2,"n":-2,"o":1},
{"t":114.5,"a":-2,"b":0,"c":2,"d":-5,"e":14,"f":-1,"g":1,"h":-1,"i":0,"j":-2,"k":1,"l":2,"m":-2,"n":3,"o":-1},
{"t":115,"a":1,"b":-4,"c":-1,"d":5,"e":-10,"f":2,"g":-1,"h":1,"i":-1,"j":2,"k":-4,"l":-1,"m":1,"n":-1,"o":1},
{"t":115.5,"a":-1,"b":1,"c":3,"d":-5,"e":5,"f":-2,"g":1,"h":-1,"i":1,"j":-1,"k":3,"l":1,"m":-1,"n":2,"o":1},
{"t":116,"a":2,"b":-1,"c":-2,"d":9,"e":-10,"f":2,"g":0,"h":0,"i":-1,"j":1,"k":-2,"l":-2,"m":1,"n":-2,"o":-1},
{"t":116.5,"a":-2,"b":2,"c":2,"d":-5,"e":10,"f":-2,"g":-1,"h":1,"i":0,"j":-3,"k":4,"l":1,"m":2,"n":1,"o":1},
{"t":117,"a":1,"b":-2,"c":-3,"d":5,"e":-5,"f":1,"g":1,"h":0,"i":1,"j":2,"k":-4,"l":1,"m":-1,"n":-3,"o":0},
{"t":117.5,"a":-2,"b":1,"c":1,"d":-5,"e":14,"f":-2,"g":-1,"h":1,"i":-1,"j":-2,"k":2,"l":-2,"m":1,"n":2,"o":-1},
{"t":118,"a":2,"b":0,"c":-1,"d":9,"e":-14,"f":2,"g":0,"h":-1,"i":1,"j":3,"k":-3,"l":1,"m":-2,"n":-1,"o":1},
{"t":118.5,"a":-1,"b":-1,"c":2,"d":-9,"e":5,"f":-1,"g":1,"h":0,"i":0,"j":-1,"k":3,"l":-1,"m":2,"n":3,"o":-1},
{"t":119,"a":0,"b":2,"c":-2,"d":0,"e":-10,"f":2,"g":-1,"h":1,"i":-1,"j":1,"k":4,"l":2,"m":-1,"n":-2,"o":0},
{"t":119.5,"a":2,"b":-1,"c":1,"d":5,"e":10,"f":-2,"g":0,"h":-1,"i":1,"j":-2,"k":-3,"l":-1,"m":0,"n":1,"o":1},
{"t":120,"a":-1,"b":1,"c":3,"d":-9,"e":10,"f":2,"g":1,"h":1,"i":0,"j":2,"k":2,"l":0,"m":1,"n":2,"o":-1},
{"t":120.5,"a":1,"b":-2,"c":-2,"d":9,"e":-14,"f":-2,"g":-1,"h":0,"i":-1,"j":-3,"k":-4,"l":-2,"m":-2,"n":-3,"o":1},
{"t":121,"a":-2,"b":2,"c":1,"d":-5,"e":5,"f":1,"g":1,"h":-1,"i":1,"j":1,"k":3,"l":2,"m":2,"n":1,"o":1},
{"t":121.5,"a":1,"b":0,"c":-3,"d":5,"e":-5,"f":-2,"g":0,"h":1,"i":-1,"j":-1,"k":-2,"l":-1,"m":-2,"n":-2,"o":-1},
{"t":122,"a":-1,"b":-2,"c":2,"d":-5,"e":14,"f":2,"g":-1,"h":-1,"i":0,"j":3,"k":4,"l":1,"m":1,"n":3,"o":1},
{"t":122.5,"a":2,"b":1,"c":-1,"d":5,"e":-6,"f":-1,"g":1,"h":0,"i":1,"j":-2,"k":-3,"l":-2,"m":-1,"n":-1,"o":0},
{"t":123,"a":-2,"b":-1,"c":3,"d":-3,"e":3,"f":2,"g":-1,"h":1,"i":-1,"j":2,"k":1,"l":1,"m":1,"n":2,"o":-1},
{"t":123.5,"a":1,"b":2,"c":-2,"d":3,"e":-6,"f":-2,"g":0,"h":0,"i":1,"j":-1,"k":-4,"l":1,"m":2,"n":-2,"o":1},
{"t":124,"a":-2,"b":-2,"c":2,"d":-3,"e":6,"f":2,"g":1,"h":1,"i":0,"j":1,"k":3,"l":-2,"m":-1,"n":1,"o":-1},
{"t":124.5,"a":2,"b":1,"c":-3,"d":5,"e":-3,"f":-2,"g":-1,"h":-1,"i":-1,"j":-3,"k":-2,"l":1,"m":1,"n":-3,"o":0},
{"t":125,"a":-1,"b":0,"c":1,"d":-5,"e":9,"f":1,"g":0,"h":0,"i":1,"j":2,"k":4,"l":-1,"m":-2,"n":2,"o":1},
{"t":125.5,"a":0,"b":-1,"c":-1,"d":0,"e":-9,"f":-2,"g":1,"h":1,"i":0,"j":-2,"k":-4,"l":2,"m":2,"n":-1,"o":-1},
{"t":126,"a":2,"b":2,"c":2,"d":3,"e":3,"f":2,"g":-1,"h":-1,"i":-1,"j":3,"k":2,"l":-1,"m":-1,"n":3,"o":1},
{"t":126.5,"a":-1,"b":-1,"c":-2,"d":-5,"e":-6,"f":-1,"g":1,"h":1,"i":1,"j":-1,"k":-3,"l":0,"m":0,"n":-2,"o":1},
{"t":127,"a":1,"b":1,"c":1,"d":5,"e":6,"f":2,"g":0,"h":0,"i":-1,"j":1,"k":3,"l":-2,"m":1,"n":1,"o":-1},
{"t":127.5,"a":-2,"b":-2,"c":3,"d":-3,"e":6,"f":-2,"g":-1,"h":-1,"i":0,"j":-2,"k":4,"l":2,"m":-2,"n":2,"o":1},
{"t":128,"a":1,"b":2,"c":-2,"d":3,"e":-9,"f":2,"g":1,"h":1,"i":1,"j":2,"k":-3,"l":-1,"m":2,"n":-3,"o":0},
{"t":128.5,"a":-1,"b":0,"c":1,"d":-3,"e":3,"f":-2,"g":-1,"h":-1,"i":-1,"j":-3,"k":2,"l":1,"m":-2,"n":1,"o":-1},
{"t":129,"a":2,"b":-2,"c":-3,"d":5,"e":-3,"f":1,"g":0,"h":0,"i":1,"j":1,"k":-4,"l":-2,"m":1,"n":-2,"o":1},
{"t":129.5,"a":-2,"b":1,"c":2,"d":-3,"e":9,"f":-2,"g":1,"h":1,"i":0,"j":-1,"k":3,"l":1,"m":-1,"n":3,"o":-1},
{"t":130,"a":1,"b":-1,"c":-1,"d":3,"e":-6,"f":2,"g":-1,"h":0,"i":-1,"j":3,"k":-2,"l":1,"m":1,"n":-1,"o":0},
{"t":130.5,"a":-2,"b":2,"c":3,"d":-3,"e":2,"f":-1,"g":0,"h":1,"i":1,"j":-2,"k":4,"l":-2,"m":2,"n":2,"o":1},
{"t":131,"a":2,"b":-2,"c":-2,"d":5,"e":-3,"f":2,"g":1,"h":-1,"i":0,"j":2,"k":-3,"l":1,"m":-1,"n":-2,"o":-1},
{"t":131.5,"a":-1,"b":1,"c":2,"d":-5,"e":3,"f":-2,"g":-1,"h":0,"i":-1,"j":-1,"k":1,"l":-1,"m":1,"n":1,"o":1},
{"t":132,"a":0,"b":0,"c":-3,"d":0,"e":-2,"f":2,"g":1,"h":1,"i":1,"j":1,"k":-4,"l":2,"m":-2,"n":-3,"o":1},
{"t":132.5,"a":2,"b":-1,"c":1,"d":3,"e":5,"f":-2,"g":0,"h":-1,"i":-1,"j":-3,"k":3,"l":-1,"m":2,"n":2,"o":-1},
{"t":133,"a":-1,"b":2,"c":-1,"d":-5,"e":-5,"f":1,"g":-1,"h":1,"i":0,"j":2,"k":-2,"l":0,"m":-1,"n":-1,"o":1},
{"t":133.5,"a":1,"b":-1,"c":2,"d":5,"e":2,"f":-2,"g":1,"h":0,"i":1,"j":-2,"k":4,"l":-2,"m":0,"n":3,"o":0},
{"t":134,"a":-2,"b":1,"c":-2,"d":-3,"e":-3,"f":2,"g":-1,"h":-1,"i":-1,"j":3,"k":-4,"l":2,"m":1,"n":-2,"o":-1},
{"t":134.5,"a":1,"b":-2,"c":1,"d":3,"e":3,"f":-1,"g":0,"h":1,"i":1,"j":-1,"k":2,"l":-1,"m":-2,"n":1,"o":1},
{"t":135,"a":-1,"b":2,"c":3,"d":-3,"e":3,"f":2,"g":1,"h":-1,"i":0,"j":1,"k":-3,"l":1,"m":2,"n":2,"o":-1},
{"t":135.5,"a":2,"b":0,"c":-2,"d":2,"e":-5,"f":-2,"g":-1,"h":0,"i":-1,"j":-2,"k":3,"l":-2,"m":-2,"n":-3,"o":0},
{"t":136,"a":-2,"b":-2,"c":1,"d":-1,"e":2,"f":2,"g":0,"h":1,"i":1,"j":2,"k":4,"l":1,"m":1,"n":1,"o":1},
{"t":136.5,"a":1,"b":1,"c":-3,"d":1,"e":-2,"f":-2,"g":1,"h":0,"i":0,"j":-3,"k":-3,"l":1,"m":-1,"n":-2,"o":-1},
{"t":137,"a":-2,"b":-1,"c":2,"d":-1,"e":5,"f":1,"g":-1,"h":1,"i":-1,"j":1,"k":2,"l":-2,"m":1,"n":3,"o":1},
{"t":137.5,"a":2,"b":2,"c":-1,"d":2,"e":-3,"f":-2,"g":1,"h":-1,"i":1,"j":-1,"k":-4,"l":1,"m":2,"n":-1,"o":1},
{"t":138,"a":-1,"b":-2,"c":3,"d":-2,"e":2,"f":2,"g":0,"h":0,"i":-1,"j":3,"k":3,"l":-1,"m":-1,"n":2,"o":-1},
{"t":138.5,"a":0,"b":1,"c":-2,"d":0,"e":-3,"f":-1,"g":-1,"h":1,"i":0,"j":-2,"k":-2,"l":2,"m":1,"n":-2,"o":1},
{"t":139,"a":2,"b":0,"c":2,"d":1,"e":3,"f":2,"g":1,"h":-1,"i":1,"j":2,"k":4,"l":-1,"m":-2,"n":1,"o":0},
{"t":139.5,"a":-1,"b":-1,"c":-3,"d":-2,"e":-2,"f":-2,"g":-1,"h":1,"i":-1,"j":-1,"k":-3,"l":0,"m":2,"n":-3,"o":-1},
{"t":140,"a":1,"b":2,"c":1,"d":2,"e":5,"f":2,"g":0,"h":0,"i":1,"j":1,"k":1,"l":-2,"m":-1,"n":2,"o":1},
{"t":140.5,"a":-2,"b":-1,"c":-1,"d":-1,"e":-5,"f":-2,"g":1,"h":-1,"i":0,"j":-3,"k":-4,"l":2,"m":0,"n":-1,"o":-1},
{"t":141,"a":1,"b":1,"c":2,"d":1,"e":2,"f":1,"g":-1,"h":1,"i":-1,"j":2,"k":3,"l":-1,"m":1,"n":3,"o":0},
{"t":141.5,"a":-1,"b":-2,"c":-2,"d":-1,"e":-3,"f":-2,"g":0,"h":-1,"i":1,"j":-2,"k":-2,"l":1,"m":-2,"n":-2,"o":1},
{"t":142,"a":2,"b":2,"c":1,"d":2,"e":3,"f":2,"g":1,"h":0,"i":0,"j":3,"k":4,"l":-2,"m":2,"n":1,"o":-1},
{"t":142.5,"a":-2,"b":0,"c":3,"d":-1,"e":3,"f":-1,"g":-1,"h":1,"i":-1,"j":-1,"k":-4,"l":1,"m":-2,"n":2,"o":1},
{"t":143,"a":1,"b":-2,"c":-2,"d":1,"e":-5,"f":2,"g":1,"h":0,"i":1,"j":1,"k":2,"l":1,"m":1,"n":-3,"o":1},
{"t":143.5,"a":-2,"b":1,"c":1,"d":-1,"e":2,"f":-2,"g":0,"h":1,"i":-1,"j":-2,"k":-3,"l":-2,"m":-1,"n":1,"o":-1},
{"t":144,"a":2,"b":-1,"c":-3,"d":2,"e":-2,"f":2,"g":-1,"h":-1,"i":0,"j":2,"k":3,"l":1,"m":1,"n":-2,"o":1},
{"t":144.5,"a":-1,"b":2,"c":2,"d":-2,"e":5,"f":-2,"g":1,"h":0,"i":1,"j":-3,"k":4,"l":-1,"m":2,"n":3,"o":0},
{"t":145,"a":0,"b":-2,"c":-1,"d":0,"e":-3,"f":1,"g":-1,"h":1,"i":-1,"j":1,"k":-3,"l":2,"m":-1,"n":-1,"o":-1},
{"t":145.5,"a":2,"b":1,"c":3,"d":1,"e":1,"f":-2,"g":0,"h":-1,"i":1,"j":-1,"k":2,"l":-1,"m":1,"n":2,"o":1},
{"t":146,"a":-1,"b":0,"c":-2,"d":-2,"e":-2,"f":2,"g":1,"h":1,"i":0,"j":3,"k":-4,"l":0,"m":-2,"n":-2,"o":-1},
{"t":146.5,"a":1,"b":-1,"c":2,"d":2,"e":2,"f":-1,"g":-1,"h":0,"i":-1,"j":-2,"k":3,"l":-2,"m":2,"n":1,"o":0},
{"t":147,"a":-2,"b":2,"c":-3,"d":-1,"e":-1,"f":2,"g":0,"h":-1,"i":1,"j":2,"k":-2,"l":2,"m":-1,"n":-3,"o":1},
{"t":147.5,"a":1,"b":-1,"c":1,"d":1,"e":3,"f":-2,"g":1,"h":1,"i":0,"j":-1,"k":4,"l":-1,"m":0,"n":2,"o":-1},
{"t":148,"a":-1,"b":1,"c":-1,"d":-1,"e":-3,"f":2,"g":-1,"h":-1,"i":-1,"j":1,"k":-3,"l":1,"m":1,"n":-1,"o":1},
{"t":148.5,"a":2,"b":-2,"c":2,"d":2,"e":1,"f":-2,"g":1,"h":0,"i":1,"j":-3,"k":1,"l":-2,"m":-2,"n":3,"o":1},
{"t":149,"a":-2,"b":2,"c":-2,"d":-1,"e":-2,"f":1,"g":0,"h":1,"i":-1,"j":2,"k":-4,"l":1,"m":2,"n":-2,"o":-1},
{"t":149.5,"a":1,"b":0,"c":1,"d":1,"e":2,"f":-2,"g":-1,"h":0,"i":0,"j":-2,"k":3,"l":1,"m":-2,"n":1,"o":1},
{"t":150,"a":-2,"b":-2,"c":3,"d":-1,"e":2,"f":2,"g":1,"h":1,"i":1,"j":3,"k":-2,"l":-2,"m":1,"n":2,"o":0},
{"t":150.5,"a":2,"b":1,"c":-2,"d":2,"e":-3,"f":-1,"g":-1,"h":-1,"i":-1,"j":-1,"k":4,"l":1,"m":-1,"n":-3,"o":-1},
{"t":151,"a":-1,"b":-1,"c":1,"d":-2,"e":1,"f":2,"g":0,"h":0,"i":1,"j":1,"k":-4,"l":-1,"m":1,"n":1,"o":1},
{"t":151.5,"a":0,"b":2,"c":-3,"d":0,"e":-1,"f":-2,"g":1,"h":1,"i":0,"j":-2,"k":2,"l":2,"m":2,"n":-2,"o":-1},
{"t":152,"a":2,"b":-2,"c":2,"d":1,"e":3,"f":2,"g":-1,"h":-1,"i":-1,"j":2,"k":-3,"l":-1,"m":-1,"n":3,"o":0},
{"t":152.5,"a":-1,"b":1,"c":-1,"d":-2,"e":-2,"f":-2,"g":0,"h":1,"i":1,"j":-3,"k":3,"l":0,"m":1,"n":-1,"o":1},
{"t":153,"a":1,"b":0,"c":3,"d":2,"e":1,"f":1,"g":1,"h":0,"i":0,"j":1,"k":4,"l":-2,"m":-2,"n":2,"o":-1},
{"t":153.5,"a":-2,"b":-1,"c":-2,"d":-1,"e":-2,"f":-2,"g":-1,"h":-1,"i":-1,"j":-1,"k":-3,"l":2,"m":2,"n":-2,"o":1},
{"t":154,"a":1,"b":2,"c":2,"d":1,"e":2,"f":2,"g":1,"h":1,"i":1,"j":3,"k":2,"l":-1,"m":-1,"n":1,"o":1},
{"t":154.5,"a":-1,"b":-1,"c":-3,"d":-1,"e":-1,"f":-1,"g":0,"h":-1,"i":-1,"j":-2,"k":-4,"l":1,"m":0,"n":-3,"o":-1},
{"t":155,"a":2,"b":1,"c":1,"d":2,"e":3,"f":2,"g":-1,"h":0,"i":0,"j":2,"k":3,"l":-2,"m":1,"n":2,"o":1},
{"t":155.5,"a":-2,"b":-2,"c":-1,"d":-1,"e":-3,"f":-2,"g":1,"h":1,"i":1,"j":-1,"k":-2,"l":1,"m":-2,"n":-1,"o":0},
{"t":156,"a":1,"b":2,"c":2,"d":1,"e":1,"f":2,"g":-1,"h":0,"i":-1,"j":1,"k":4,"l":1,"m":2,"n":3,"o":-1},
{"t":156.5,"a":-2,"b":0,"c":-2,"d":-1,"e":-2,"f":-2,"g":0,"h":1,"i":1,"j":-3,"k":-3,"l":-2,"m":-2,"n":-2,"o":1},
{"t":157,"a":2,"b":-2,"c":1,"d":2,"e":2,"f":1,"g":1,"h":-1,"i":0,"j":2,"k":1,"l":1,"m":1,"n":1,"o":-1},
{"t":157.5,"a":-1,"b":1,"c":3,"d":-2,"e":2,"f":-2,"g":-1,"h":0,"i":-1,"j":-2,"k":-4,"l":-1,"m":-1,"n":2,"o":0},
{"t":158,"a":0,"b":-1,"c":-2,"d":0,"e":-3,"f":2,"g":0,"h":1,"i":1,"j":3,"k":3,"l":2,"m":1,"n":-3,"o":1},
{"t":158.5,"a":2,"b":2,"c":1,"d":1,"e":1,"f":-1,"g":1,"h":-1,"i":0,"j":-1,"k":-2,"l":-1,"m":2,"n":1,"o":-1},
{"t":159,"a":-1,"b":-2,"c":-3,"d":-2,"e":-1,"f":2,"g":-1,"h":1,"i":-1,"j":1,"k":4,"l":0,"m":-1,"n":-2,"o":1},
{"t":159.5,"a":1,"b":1,"c":2,"d":2,"e":3,"f":-2,"g":1,"h":0,"i":1,"j":-2,"k":-4,"l":-2,"m":1,"n":3,"o":1},
{"t":160,"a":-2,"b":0,"c":-1,"d":-1,"e":-2,"f":2,"g":0,"h":-1,"i":-1,"j":2,"k":2,"l":2,"m":-2,"n":-1,"o":-1},
{"t":160.5,"a":1,"b":-1,"c":3,"d":1,"e":1,"f":-2,"g":-1,"h":1,"i":0,"j":-3,"k":-3,"l":-1,"m":2,"n":2,"o":1},
{"t":161,"a":-1,"b":2,"c":-2,"d":-1,"e":-2,"f":1,"g":1,"h":-1,"i":1,"j":1,"k":3,"l":1,"m":-1,"n":-2,"o":0},
{"t":161.5,"a":2,"b":-1,"c":2,"d":2,"e":2,"f":-2,"g":-1,"h":0,"i":-1,"j":-1,"k":4,"l":-2,"m":0,"n":1,"o":-1},
{"t":162,"a":-2,"b":1,"c":-3,"d":-1,"e":-1,"f":2,"g":0,"h":1,"i":1,"j":3,"k":-3,"l":1,"m":1,"n":-3,"o":1},
{"t":162.5,"a":1,"b":-2,"c":1,"d":1,"e":3,"f":-1,"g":1,"h":0,"i":0,"j":-2,"k":2,"l":1,"m":-2,"n":2,"o":-1},
{"t":163,"a":-2,"b":2,"c":-1,"d":-1,"e":-3,"f":2,"g":-1,"h":1,"i":-1,"j":2,"k":-4,"l":-2,"m":2,"n":-1,"o":0},
{"t":163.5,"a":2,"b":0,"c":2,"d":2,"e":1,"f":-2,"g":0,"h":-1,"i":1,"j":-1,"k":3,"l":1,"m":-2,"n":3,"o":1},
{"t":164,"a":-1,"b":-2,"c":-2,"d":-2,"e":-2,"f":2,"g":1,"h":0,"i":0,"j":1,"k":-2,"l":-1,"m":1,"n":-2,"o":-1},
{"t":164.5,"a":0,"b":1,"c":1,"d":0,"e":2,"f":-2,"g":-1,"h":1,"i":-1,"j":-3,"k":4,"l":2,"m":-1,"n":1,"o":1},
{"t":165,"a":2,"b":-1,"c":3,"d":1,"e":2,"f":1,"g":1,"h":-1,"i":1,"j":2,"k":-3,"l":-1,"m":1,"n":2,"o":1},
{"t":165.5,"a":-1,"b":2,"c":-2,"d":-2,"e":-3,"f":-2,"g":0,"h":1,"i":-1,"j":-2,"k":1,"l":0,"m":2,"n":-3,"o":-1},
{"t":166,"a":1,"b":-2,"c":1,"d":2,"e":1,"f":2,"g":-1,"h":0,"i":0,"j":3,"k":-4,"l":-2,"m":-1,"n":1,"o":1},
{"t":166.5,"a":-2,"b":1,"c":-3,"d":-1,"e":-1,"f":-1,"g":1,"h":-1,"i":1,"j":-1,"k":3,"l":2,"m":1,"n":-2,"o":0},
{"t":167,"a":1,"b":0,"c":2,"d":1,"e":3,"f":2,"g":-1,"h":1,"i":-1,"j":1,"k":-2,"l":-1,"m":-2,"n":3,"o":-1},
{"t":167.5,"a":-1,"b":-1,"c":-1,"d":-1,"e":-2,"f":-2,"g":0,"h":-1,"i":1,"j":-2,"k":4,"l":1,"m":2,"n":-1,"o":1},
{"t":168,"a":2,"b":2,"c":3,"d":2,"e":1,"f":2,"g":1,"h":0,"i":0,"j":2,"k":-4,"l":-2,"m":-1,"n":2,"o":-1},
{"t":168.5,"a":-2,"b":-1,"c":-2,"d":-1,"e":-2,"f":-2,"g":-1,"h":1,"i":-1,"j":-3,"k":2,"l":1,"m":0,"n":-2,"o":0},
{"t":169,"a":1,"b":1,"c":2,"d":1,"e":2,"f":1,"g":0,"h":0,"i":1,"j":1,"k":-3,"l":1,"m":1,"n":1,"o":1},
{"t":169.5,"a":-2,"b":-2,"c":-3,"d":-1,"e":-1,"f":-2,"g":1,"h":1,"i":0,"j":-1,"k":3,"l":-2,"m":-2,"n":-3,"o":-1},
{"t":170,"a":2,"b":2,"c":1,"d":2,"e":3,"f":2,"g":-1,"h":-1,"i":-1,"j":3,"k":4,"l":1,"m":2,"n":2,"o":1},
{"t":170.5,"a":-1,"b":0,"c":-1,"d":-2,"e":-3,"f":-1,"g":1,"h":0,"i":1,"j":-2,"k":-3,"l":-1,"m":-2,"n":-1,"o":1},
{"t":171,"a":0,"b":-2,"c":2,"d":0,"e":1,"f":2,"g":0,"h":1,"i":-1,"j":2,"k":2,"l":2,"m":1,"n":3,"o":-1},
{"t":171.5,"a":2,"b":1,"c":-2,"d":1,"e":-2,"f":-2,"g":-1,"h":-1,"i":0,"j":-1,"k":-4,"l":-1,"m":-1,"n":-2,"o":1},
{"t":172,"a":-1,"b":-1,"c":1,"d":-2,"e":2,"f":2,"g":1,"h":1,"i":1,"j":1,"k":3,"l":0,"m":1,"n":1,"o":0},
{"t":172.5,"a":1,"b":2,"c":3,"d":2,"e":2,"f":-2,"g":-1,"h":0,"i":-1,"j":-3,"k":-2,"l":-2,"m":2,"n":2,"o":-1},
{"t":173,"a":-2,"b":-2,"c":-2,"d":-1,"e":-3,"f":1,"g":0,"h":-1,"i":1,"j":2,"k":4,"l":2,"m":-1,"n":-3,"o":1},
{"t":173.5,"a":1,"b":1,"c":1,"d":1,"e":1,"f":-2,"g":1,"h":1,"i":0,"j":-2,"k":-3,"l":-1,"m":1,"n":1,"o":-1},
{"t":174,"a":-1,"b":0,"c":-3,"d":-1,"e":-1,"f":2,"g":-1,"h":-1,"i":-1,"j":3,"k":1,"l":1,"m":-2,"n":-2,"o":0},
{"t":174.5,"a":2,"b":-1,"c":2,"d":2,"e":3,"f":-1,"g":0,"h":0,"i":1,"j":-1,"k":-4,"l":-2,"m":2,"n":3,"o":1},
{"t":175,"a":-2,"b":2,"c":-1,"d":-1,"e":-2,"f":2,"g":1,"h":1,"i":0,"j":1,"k":3,"l":1,"m":-1,"n":-1,"o":-1},
{"t":175.5,"a":1,"b":-1,"c":3,"d":1,"e":1,"f":-2,"g":-1,"h":0,"i":-1,"j":-2,"k":-2,"l":1,"m":0,"n":2,"o":1},
{"t":176,"a":-2,"b":1,"c":-2,"d":-1,"e":-2,"f":2,"g":1,"h":1,"i":1,"j":2,"k":4,"l":-5,"m":1,"n":-2,"o":1},
{"t":176.5,"a":2,"b":-2,"c":2,"d":2,"e":2,"f":-2,"g":0,"h":-1,"i":-1,"j":-3,"k":-4,"l":3,"m":-2,"n":1,"o":-1},
{"t":177,"a":-1,"b":2,"c":-3,"d":-2,"e":-1,"f":1,"g":-1,"h":0,"i":0,"j":1,"k":2,"l":-3,"m":2,"n":-3,"o":1},
{"t":177.5,"a":0,"b":0,"c":1,"d":0,"e":3,"f":-2,"g":1,"h":1,"i":1,"j":-1,"k":-3,"l":5,"m":-2,"n":2,"o":0},
{"t":178,"a":2,"b":-2,"c":-1,"d":1,"e":-3,"f":2,"g":-1,"h":-1,"i":-1,"j":3,"k":3,"l":-3,"m":1,"n":-1,"o":-1},
{"t":178.5,"a":-1,"b":1,"c":2,"d":-2,"e":1,"f":-1,"g":0,"h":1,"i":1,"j":-2,"k":4,"l":0,"m":-1,"n":3,"o":1},
{"t":179,"a":1,"b":-1,"c":-2,"d":2,"e":-2,"f":2,"g":1,"h":0,"i":0,"j":2,"k":-3,"l":-2,"m":1,"n":-2,"o":-1},
{"t":179.5,"a":-2,"b":2,"c":1,"d":-1,"e":2,"f":-2,"g":-1,"h":-1,"i":-1,"j":-1,"k":2,"l":2,"m":2,"n":1,"o":0},
{"t":180,"a":1,"b":-2,"c":3,"d":1,"e":2,"f":2,"g":0,"h":1,"i":1,"j":1,"k":-4,"l":-1,"m":-1,"n":2,"o":1}
]
},
"vconcat": [
{"layer": [
{"transform": [{"filter": {"field": "t", "equal": 0}}], "mark": "rule", "encoding": {"x": {"datum": 0, "type": "quantitative", "axis": null}}},
{"mark": "line", "encoding": {"x": {"field": "t", "type": "quantitative", "scale": {"domain": [-20.5, 180], "nice": false, "zero": false}, "axis": null}, "y": {"field": "a", "type": "quantitative", "scale": {"domain": [-26.5, 26.5], "nice": false}, "axis": null}}},
{"transform": [{"filter": {"field": "t", "equal": 0}}], "mark": {"type": "text", "text": "CAVN..HHE*"}, "encoding": {"x": {"datum": -19.4, "type": "quantitative", "axis": null}, "y": {"datum": 0, "type": "quantitative", "axis": null}}},
{"transform": [{"filter": {"field": "t", "equal": 0}}], "mark": {"type": "text", "text": "527"}, "encoding": {"x": {"datum": 7.7, "type": "quantitative", "axis": null}, "y": {"datum": 19, "type": "quantitative", "axis": null}}}
]},
{"layer": [
{"transform": [{"filter": {"field": "t", "equal": 0}}], "mark": "rule", "encoding": {"x": {"datum": 0, "type": "quantitative", "axis": null}}},
{"mark": "line", "encoding": {"x": {"field": "t", "type": "quantitative", "scale": {"domain": [-20.5, 180], "nice": false, "zero": false}, "axis": null}, "y": {"field": "b", "type": "quantitative", "scale": {"domain": [-26.5, 26.5], "nice": false}, "axis": null}}},
{"transform": [{"filter": {"field": "t", "equal": 0}}], "mark": {"type": "text", "text": "CAVN..HHN*"}, "encoding": {"x": {"datum": -19.4, "type": "quantitative", "axis": null}, "y": {"datum": 0, "type": "quantitative", "axis": null}}},
{"transform": [{"filter": {"field": "t", "equal": 0}}], "mark": {"type": "text", "text": "515"}, "encoding": {"x": {"datum": 7.7, "type": "quantitative", "axis": null}, "y": {"datum": 19, "type": "quantitative", "axis": null}}}
]},
{"layer": [
{"transform": [{"filter": {"field": "t", "equal": 0}}], "mark": "rule", "encoding": {"x": {"datum": 0, "type": "quantitative", "axis": null}}},
{"mark": "line", "encoding": {"x": {"field": "t", "type": "quantitative", "scale": {"domain": [-20.5, 180], "nice": false, "zero": false}, "axis": null}, "y": {"field": "c", "type": "quantitative", "scale": {"domain": [-26.5, 26.5], "nice": false}, "axis": null}}},
{"transform": [{"filter": {"field": "t", "equal": 0}}], "mark": {"type": "text", "text": "CAVN..HHZ*"}, "encoding": {"x": {"datum": -19.4, "type": "quantitative", "axis": null}, "y": {"datum": 0, "type": "quantitative", "axis": null}}},
{"transform": [{"filter": {"field": "t", "equal": 0}}], "mark": {"type": "text", "text": "366"}, "encoding": {"x": {"datum": 7.7, "type": "quantitative", "axis": null}, "y": {"datum": 19, "type": "quantitative", "axis": null}}}
]},
{"layer": [
{"transform": [{"filter": {"field": "t", "equal": 0}}], "mark": "rule", "encoding": {"x": {"datum": 0, "type": "quantitative", "axis": null}}},
{"mark": "line", "encoding": {"x": {"field": "t", "type": "quantitative", "scale": {"domain": [-20.5, 180], "nice": false, "zero": false}, "axis": null}, "y": {"field": "d", "type": "quantitative", "scale": {"domain": [-26.5, 26.5], "nice": false}, "axis": null}}},
{"transform": [{"filter": {"field": "t", "equal": 0}}], "mark": {"type": "text", "text": "CFON..HHE*"}, "encoding": {"x": {"datum": -19.4, "type": "quantitative", "axis": null}, "y": {"datum": 0, "type": "quantitative", "axis": null}}},
{"transform": [{"filter": {"field": "t", "equal": 0}}], "mark": {"type": "text", "text": "385"}, "encoding": {"x": {"datum": 7.7, "type": "quantitative", "axis": null}, "y": {"datum": 19, "type": "quantitative", "axis": null}}}
]},
{"layer": [
{"transform": [{"filter": {"field": "t", "equal": 0}}], "mark": "rule", "encoding": {"x": {"datum": 0, "type": "quantitative", "axis": null}}},
{"mark": "line", "encoding": {"x": {"field": "t", "type": "quantitative", "scale": {"domain": [-20.5, 180], "nice": false, "zero": false}, "axis": null}, "y": {"field": "e", "type": "quantitative", "scale": {"domain": [-26.5, 26.5], "nice": false}, "axis": null}}},
{"transform": [{"filter": {"field": "t", "equal": 0}}], "mark": {"type": "text", "text": "CFON..HHN*"}, "encoding": {"x": {"datum": -19.4, "type": "quantitative", "axis": null}, "y": {"datum": 0, "type": "quantitative", "axis": null}}},
{"transform": [{"filter": {"field": "t", "equal": 0}}], "mark": {"type": "text", "text": "329"}, "encoding": {"x": {"datum": 7.7, "type": "quantitative", "axis": null}, "y": {"datum": 19, "type": "quantitative", "axis": null}}}
]},
{"layer": [
{"transform": [{"filter": {"field": "t", "equal": 0}}], "mark": "rule", "encoding": {"x": {"datum": 0, "type": "quantitative", "axis": null}}},
{"mark": "line", "encoding": {"x": {"field": "t", "type": "quantitative", "scale": {"domain": [-20.5, 180], "nice": false, "zero": false}, "axis": null}, "y": {"field": "f", "type": "quantitative", "scale": {"domain": [-26.5, 26.5], "nice": false}, "axis": null}}},
{"transform": [{"filter": {"field": "t", "equal": 0}}], "mark": {"type": "text", "text": "CFON..HHZ*"}, "encoding": {"x": {"datum": -19.4, "type": "quantitative", "axis": null}, "y": {"datum": 0, "type": "quantitative", "axis": null}}},
{"transform": [{"filter": {"field": "t", "equal": 0}}], "mark": {"type": "text", "text": "604"}, "encoding": {"x": {"datum": 7.7, "type": "quantitative", "axis": null}, "y": {"datum": 19, "type": "quantitative", "axis": null}}}
]},
{"layer": [
{"transform": [{"filter": {"field": "t", "equal": 0}}], "mark": "rule", "encoding": {"x": {"datum": 0, "type": "quantitative", "axis": null}}},
{"mark": "line", "encoding": {"x": {"field": "t", "type": "quantitative", "scale": {"domain": [-20.5, 180], "nice": false, "zero": false}, "axis": null}, "y": {"field": "g", "type": "quantitative", "scale": {"domain": [-26.5, 26.5], "nice": false}, "axis": null}}},
{"transform": [{"filter": {"field": "t", "equal": 0}}], "mark": {"type": "text", "text": "CLLI..HHE*"}, "encoding": {"x": {"datum": -19.4, "type": "quantitative", "axis": null}, "y": {"datum": 0, "type": "quantitative", "axis": null}}},
{"transform": [{"filter": {"field": "t", "equal": 0}}], "mark": {"type": "text", "text": "1226"}, "encoding": {"x": {"datum": 7.7, "type": "quantitative", "axis": null}, "y": {"datum": 19, "type": "quantitative", "axis": null}}}
]},
{"layer": [
{"transform": [{"filter": {"field": "t", "equal": 0}}], "mark": "rule", "encoding": {"x": {"datum": 0, "type": "quantitative", "axis": null}}},
{"mark": "line", "encoding": {"x": {"field": "t", "type": "quantitative", "scale": {"domain": [-20.5, 180], "nice": false, "zero": false}, "axis": null}, "y": {"field": "h", "type": "quantitative", "scale": {"domain": [-26.5, 26.5], "nice": false}, "axis": null}}},
{"transform": [{"filter": {"field": "t", "equal": 0}}], "mark": {"type": "text", "text": "CLLI..HHN*"}, "encoding": {"x": {"datum": -19.4, "type": "quantitative", "axis": null}, "y": {"datum": 0, "type": "quantitative", "axis": null}}},
{"transform": [{"filter": {"field": "t", "equal": 0}}], "mark": {"type": "text", "text": "1243"}, "encoding": {"x": {"datum": 7.7, "type": "quantitative", "axis": null}, "y": {"datum": 19, "type": "quantitative", "axis": null}}}
]},
{"layer": [
{"transform": [{"filter": {"field": "t", "equal": 0}}], "mark": "rule", "encoding": {"x": {"datum": 0, "type": "quantitative", "axis": null}}},
{"mark": "line", "encoding": {"x": {"field": "t", "type": "quantitative", "scale": {"domain": [-20.5, 180], "nice": false, "zero": false}, "axis": null}, "y": {"field": "i", "type": "quantitative", "scale": {"domain": [-26.5, 26.5], "nice": false}, "axis": null}}},
{"transform": [{"filter": {"field": "t", "equal": 0}}], "mark": {"type": "text", "text": "CLLI..HHZ*"}, "encoding": {"x": {"datum": -19.4, "type": "quantitative", "axis": null}, "y": {"datum": 0, "type": "quantitative", "axis": null}}},
{"transform": [{"filter": {"field": "t", "equal": 0}}], "mark": {"type": "text", "text": "1277"}, "encoding": {"x": {"datum": 7.7, "type": "quantitative", "axis": null}, "y": {"datum": 19, "type": "quantitative", "axis": null}}}
]},
{"layer": [
{"transform": [{"filter": {"field": "t", "equal": 0}}], "mark": "rule", "encoding": {"x": {"datum": 0, "type": "quantitative", "axis": null}}},
{"mark": "line", "encoding": {"x": {"field": "t", "type": "quantitative", "scale": {"domain": [-20.5, 180], "nice": false, "zero": false}, "axis": null}, "y": {"field": "j", "type": "quantitative", "scale": {"domain": [-26.5, 26.5], "nice": false}, "axis": null}}},
{"transform": [{"filter": {"field": "t", "equal": 0}}], "mark": {"type": "text", "text": "CORG..HHE*"}, "encoding": {"x": {"datum": -19.4, "type": "quantitative", "axis": null}, "y": {"datum": 0, "type": "quantitative", "axis": null}}},
{"transform": [{"filter": {"field": "t", "equal": 0}}], "mark": {"type": "text", "text": "347"}, "encoding": {"x": {"datum": 7.7, "type": "quantitative", "axis": null}, "y": {"datum": 19, "type": "quantitative", "axis": null}}}
]},
{"layer": [
{"transform": [{"filter": {"field": "t", "equal": 0}}], "mark": "rule", "encoding": {"x": {"datum": 0, "type": "quantitative", "axis": null}}},
{"mark": "line", "encoding": {"x": {"field": "t", "type": "quantitative", "scale": {"domain": [-20.5, 180], "nice": false, "zero": false}, "axis": null}, "y": {"field": "k", "type": "quantitative", "scale": {"domain": [-26.5, 26.5], "nice": false}, "axis": null}}},
{"transform": [{"filter": {"field": "t", "equal": 0}}], "mark": {"type": "text", "text": "CORG..HHN*"}, "encoding": {"x": {"datum": -19.4, "type": "quantitative", "axis": null}, "y": {"datum": 0, "type": "quantitative", "axis": null}}},
{"transform": [{"filter": {"field": "t", "equal": 0}}], "mark": {"type": "text", "text": "481"}, "encoding": {"x": {"datum": 7.7, "type": "quantitative", "axis": null}, "y": {"datum": 19, "type": "quantitative", "axis": null}}}
]},
{"layer": [
{"transform": [{"filter": {"field": "t", "equal": 0}}], "mark": "rule", "encoding": {"x": {"datum": 0, "type": "quantitative", "axis": null}}},
{"mark": "line", "encoding": {"x": {"field": "t", "type": "quantitative", "scale": {"domain": [-20.5, 180], "nice": false, "zero": false}, "axis": null}, "y": {"field": "l", "type": "quantitative", "scale": {"domain": [-26.5, 26.5], "nice": false}, "axis": null}}},
{"transform": [{"filter": {"field": "t", "equal": 0}}], "mark": {"type": "text", "text": "CORG..HHZ*"}, "encoding": {"x": {"datum": -19.4, "type": "quantitative", "axis": null}, "y": {"datum": 0, "type": "quantitative", "axis": null}}},
{"transform": [{"filter": {"field": "t", "equal": 0}}], "mark": {"type": "text", "text": "455"}, "encoding": {"x": {"datum": 7.7, "type": "quantitative", "axis": null}, "y": {"datum": 19, "type": "quantitative", "axis": null}}}
]},
{"layer": [
{"transform": [{"filter": {"field": "t", "equal": 0}}], "mark": "rule", "encoding": {"x": {"datum": 0, "type": "quantitative", "axis": null}}},
{"mark": "line", "encoding": {"x": {"field": "t", "type": "quantitative", "scale": {"domain": [-20.5, 180], "nice": false, "zero": false}, "axis": null}, "y": {"field": "m", "type": "quantitative", "scale": {"domain": [-26.5, 26.5], "nice": false}, "axis": null}}},
{"transform": [{"filter": {"field": "t", "equal": 0}}], "mark": {"type": "text", "text": "CSOR..HHE*"}, "encoding": {"x": {"datum": -19.4, "type": "quantitative", "axis": null}, "y": {"datum": 0, "type": "quantitative", "axis": null}}},
{"transform": [{"filter": {"field": "t", "equal": 0}}], "mark": {"type": "text", "text": "263"}, "encoding": {"x": {"datum": 7.7, "type": "quantitative", "axis": null}, "y": {"datum": 19, "type": "quantitative", "axis": null}}}
]},
{"layer": [
{"transform": [{"filter": {"field": "t", "equal": 0}}], "mark": "rule", "encoding": {"x": {"datum": 0, "type": "quantitative", "axis": null}}},
{"mark": "line", "encoding": {"x": {"field": "t", "type": "quantitative", "scale": {"domain": [-20.5, 180], "nice": false, "zero": false}, "axis": null}, "y": {"field": "n", "type": "quantitative", "scale": {"domain": [-26.5, 26.5], "nice": false}, "axis": null}}},
{"transform": [{"filter": {"field": "t", "equal": 0}}], "mark": {"type": "text", "text": "CSOR..HHN*"}, "encoding": {"x": {"datum": -19.4, "type": "quantitative", "axis": null}, "y": {"datum": 0, "type": "quantitative", "axis": null}}},
{"transform": [{"filter": {"field": "t", "equal": 0}}], "mark": {"type": "text", "text": "376"}, "encoding": {"x": {"datum": 7.7, "type": "quantitative", "axis": null}, "y": {"datum": 19, "type": "quantitative", "axis": null}}}
]},
{"layer": [
{"transform": [{"filter": {"field": "t", "equal": 0}}], "mark": "rule", "encoding": {"x": {"datum": 0, "type": "quantitative", "axis": null}}},
{"mark": "line", "encoding": {"x": {"field": "t", "type": "quantitative", "scale": {"domain": [-20.5, 180], "nice": false, "zero": false}, "axis": null}, "y": {"field": "o", "type": "quantitative", "scale": {"domain": [-26.5, 26.5], "nice": false}, "axis": null}}},
{"transform": [{"filter": {"field": "t", "equal": 0}}], "mark": {"type": "text", "text": "CSOR..HHZ*"}, "encoding": {"x": {"datum": -19.4, "type": "quantitative", "axis": null}, "y": {"datum": 0, "type": "quantitative", "axis": null}}},
{"transform": [{"filter": {"field": "t", "equal": 0}}], "mark": {"type": "text", "text": "274"}, "encoding": {"x": {"datum": 7.7, "type": "quantitative", "axis": null}, "y": {"datum": 19, "type": "quantitative", "axis": null}}}
]},
{
"height": 22,
"data": {"values": [
{"s": 0, "k": "sep"},
{"s": 10, "k": "minor"}, {"s": 20, "k": "minor"}, {"s": 30, "k": "minor"}, {"s": 40, "k": "minor"}, {"s": 50, "k": "minor"},
{"s": 60, "k": "major", "lab": "1"},
{"s": 70, "k": "minor"}, {"s": 80, "k": "minor"}, {"s": 90, "k": "minor"}, {"s": 100, "k": "minor"}, {"s": 110, "k": "minor"},
{"s": 120, "k": "major", "lab": "2"},
{"s": 130, "k": "minor"}, {"s": 140, "k": "minor"}, {"s": 150, "k": "minor"}, {"s": 160, "k": "minor"}, {"s": 170, "k": "minor"}
]},
"layer": [
{"transform": [{"filter": "datum.k !== 'minor'"}], "mark": "rule", "encoding": {"x": {"field": "s", "type": "quantitative", "scale": {"domain": [-20.5, 180], "nice": false, "zero": false}, "axis": null}}},
{"transform": [{"filter": "datum.k === 'minor'"}], "mark": {"type": "rule", "color": "#666", "strokeWidth": 1}, "encoding": {"x": {"field": "s", "type": "quantitative", "axis": null}, "y": {"datum": -1, "type": "quantitative", "scale": {"domain": [-1, 1], "nice": false, "zero": false}, "axis": null}, "y2": {"datum": -0.62}}},
{"transform": [{"filter": "datum.k === 'major'"}], "mark": {"type": "text", "align": "left", "baseline": "alphabetic", "fontSize": 15, "color": "#000", "dx": 2}, "encoding": {"x": {"field": "s", "type": "quantitative", "axis": null}, "y": {"datum": -0.8, "type": "quantitative", "scale": {"domain": [-1, 1], "nice": false, "zero": false}, "axis": null}, "text": {"field": "lab"}}},
{"transform": [{"filter": "datum.s === 0"}], "mark": {"type": "text", "text": "minute", "fontSize": 14, "color": "#000"}, "encoding": {"x": {"datum": -19.9, "type": "quantitative", "axis": null}, "y": {"datum": 0, "type": "quantitative", "scale": {"domain": [-1, 1], "nice": false, "zero": false}, "axis": null}}}
]
}
]
}
